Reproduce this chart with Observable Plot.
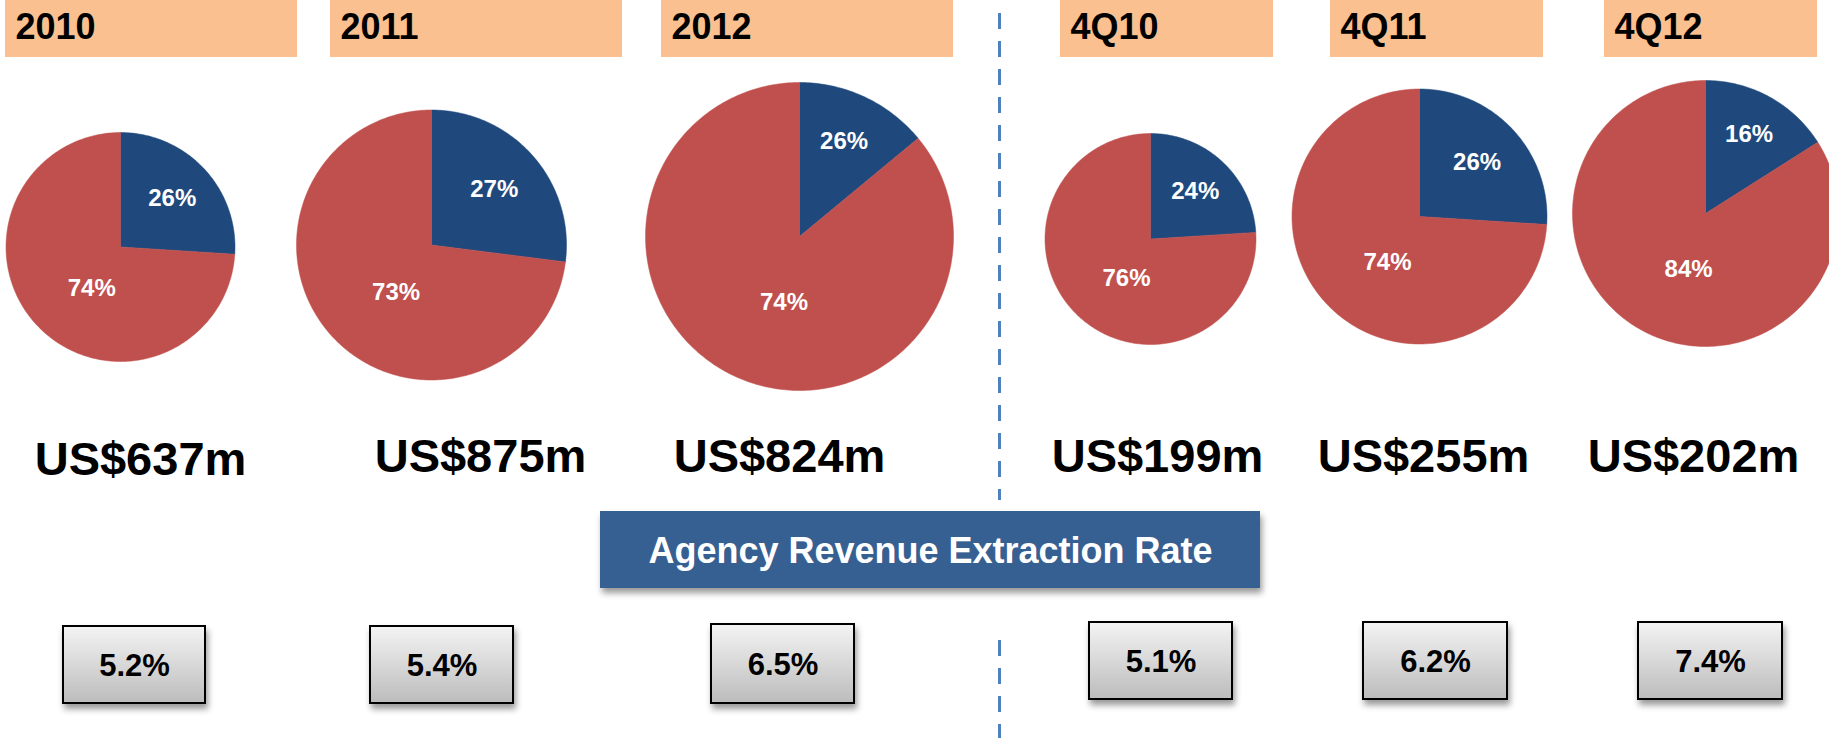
<!DOCTYPE html>
<html><head><meta charset="utf-8">
<script src="https://cdn.jsdelivr.net/npm/d3@7"></script>
<script src="https://cdn.jsdelivr.net/npm/@observablehq/plot@0.6"></script>
<style>
html,body{margin:0;padding:0;background:#fff;overflow:hidden}
#chart svg{display:block}
</style></head><body><div id="chart"></div>
<script>
// ---- data ----
const periods = ["2010", "2011", "2012", "4Q10", "4Q11", "4Q12"];
const blueLabel = [26, 27, 26, 24, 26, 16];      // printed share of blue slice (%)
const redLabel = [74, 73, 74, 76, 74, 84];       // printed share of red slice (%)
const blueDrawn = [26, 27, 14, 24, 26, 16];      // blue slice as drawn (2012 drawn smaller than its label)
const revenue = [637, 875, 824, 199, 255, 202];  // US$ m
const extractionRate = [5.2, 5.4, 6.5, 5.1, 6.2, 7.4]; // %
const bannerTitle = "Agency Revenue Extraction Rate";

// ---- layout (frame 1829 x 738) ----
const W = 1829, H = 738;
const layout = {
  header: [[5, 297], [330, 622], [661, 953], [1060, 1273], [1330, 1543], [1604, 1817]],
  headerY: [0, 57],
  pie: [[120, 246.5, 114.5], [431, 244.5, 135], [799, 236, 154], [1150, 238.5, 105.5], [1419, 216, 127.5], [1705, 213, 133]],
  revX: [140, 480, 779, 1157, 1423, 1693],
  revY: [459, 456, 456, 456, 456, 456],
  rateBox: [[63, 205, 626, 703], [370, 513, 626, 703], [711, 854, 624, 703], [1089, 1232, 622, 699], [1363, 1507, 622, 699], [1638, 1782, 622, 699]],
  banner: [600, 1260, 511, 588],
  divider: 999
};
const colors = {blue: "#1F497D", red: "#C0504D", header: "#FAC090", banner: "#376092", divider: "#4F81BD"};
const font = "'Liberation Sans', Arial, Helvetica, sans-serif";

// ---- derived tables ----
const idx = periods.map((_, i) => i);
const wedges = [];
const sliceLabels = [];
const deg = Math.PI / 180;
idx.forEach(i => {
  const [cx, cy, r] = layout.pie[i];
  const split = blueDrawn[i] / 100 * 2 * Math.PI;
  const parts = [
    {part: "blue", a0: 0, a1: split, label: blueLabel[i] + "%", k: blueDrawn[i] < 20 ? 0.68 : 0.62, shift: 0},
    {part: "red", a0: split, a1: 2 * Math.PI, label: redLabel[i] + "%", k: 0.44, shift: -12 * deg}
  ];
  for (const s of parts) {
    const id = periods[i] + "-" + s.part;
    wedges.push({id, part: s.part, x: cx, y: cy});
    const n = Math.max(2, Math.ceil((s.a1 - s.a0) / deg));
    for (let k = 0; k <= n; k++) {
      const a = s.a0 + (s.a1 - s.a0) * k / n;
      wedges.push({id, part: s.part, x: cx + r * Math.sin(a), y: cy - r * Math.cos(a)});
    }
    wedges.push({id, part: s.part, x: cx, y: cy});
    const am = (s.a0 + s.a1) / 2 + s.shift;
    sliceLabels.push({text: s.label, x: cx + s.k * r * Math.sin(am), y: cy - s.k * r * Math.cos(am)});
  }
});

const defsMark = () => {
  const defs = document.createElementNS("http://www.w3.org/2000/svg", "defs");
  defs.innerHTML = `<linearGradient id="rateGrad" x1="0" y1="0" x2="0" y2="1">
      <stop offset="0" stop-color="#f4f4f4"/><stop offset="1" stop-color="#bcbcbc"/></linearGradient>`;
  return defs;
};

const chart = Plot.plot({
  width: W, height: H, margin: 0,
  x: {domain: [0, W], range: [0, W], axis: null},
  y: {domain: [0, H], range: [0, H], axis: null},
  style: {fontFamily: font, background: "#fff", overflow: "hidden"},
  marks: [
    defsMark,
    // headers
    Plot.rect(idx, {x1: i => layout.header[i][0], x2: i => layout.header[i][1], y1: layout.headerY[0], y2: layout.headerY[1], fill: colors.header}),
    Plot.text(idx, {x: i => layout.header[i][0] + 10, y: 27, text: i => periods[i], textAnchor: "start", fontSize: 36, fontWeight: "bold", fill: "#000"}),
    // divider
    Plot.ruleX([layout.divider], {y1: 13, y2: 500, stroke: colors.divider, strokeWidth: 3, strokeDasharray: "16,12"}),
    Plot.ruleX([layout.divider], {y1: 640, y2: H, stroke: colors.divider, strokeWidth: 3, strokeDasharray: "16,12"}),
    // pies
    Plot.line(wedges.filter(d => d.part === "blue"), {x: "x", y: "y", z: "id", fill: colors.blue, stroke: colors.blue, strokeWidth: 0.5, curve: "linear"}),
    Plot.line(wedges.filter(d => d.part === "red"), {x: "x", y: "y", z: "id", fill: colors.red, stroke: colors.red, strokeWidth: 0.5, curve: "linear"}),
    Plot.text(sliceLabels, {x: "x", y: "y", text: "text", fontSize: 24, fontWeight: "bold", fill: "#fff"}),
    // revenue
    Plot.text(idx, {x: i => layout.revX[i], y: i => layout.revY[i], text: i => "US$" + revenue[i] + "m", fontSize: 47, fontWeight: "bold", fill: "#000"}),
    // banner
    Plot.rect([bannerTitle], {x1: layout.banner[0], x2: layout.banner[1], y1: layout.banner[2], y2: layout.banner[3], fill: colors.banner}),
    Plot.text([bannerTitle], {x: (layout.banner[0] + layout.banner[1]) / 2, y: 551, text: d => d, fontSize: 36, fontWeight: "bold", fill: "#fff"}),
    // rate boxes
    Plot.rect(idx, {x1: i => layout.rateBox[i][0], x2: i => layout.rateBox[i][1], y1: i => layout.rateBox[i][2], y2: i => layout.rateBox[i][3], fill: "url(#rateGrad)", stroke: "#000", strokeWidth: 2}),
    Plot.text(idx, {x: i => (layout.rateBox[i][0] + layout.rateBox[i][1]) / 2, y: i => (layout.rateBox[i][2] + layout.rateBox[i][3]) / 2 + 1, text: i => extractionRate[i].toFixed(1) + "%", fontSize: 31, fontWeight: "bold", fill: "#000"})
  ]
});
d3.select(chart).selectAll("g").filter(function () {
  const f = this.getAttribute("fill");
  return f === "url(#rateGrad)" || f === colors.banner;
}).selectAll("rect").style("filter", "drop-shadow(2px 5px 3px rgba(0,0,0,0.4))");
document.getElementById("chart").append(chart);
</script>
</body></html>
